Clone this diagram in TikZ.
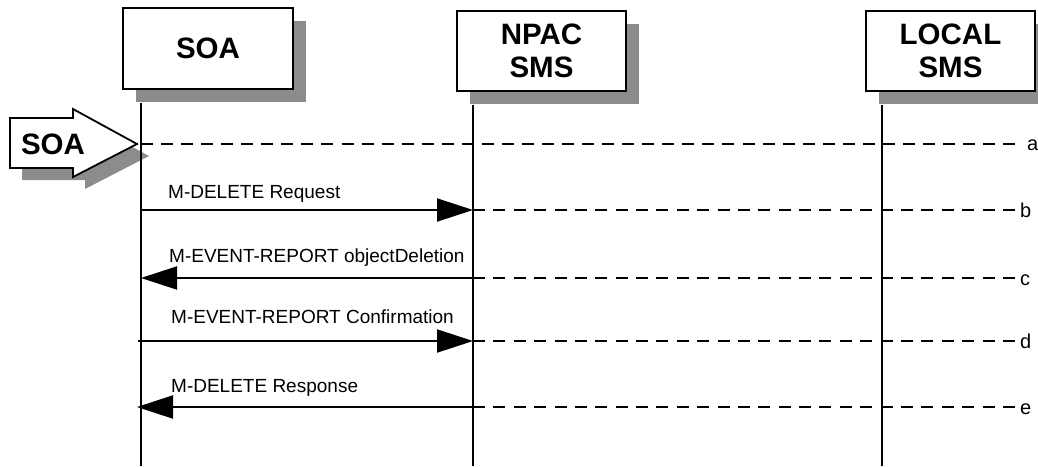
\documentclass[tikz,border=0pt]{standalone}
\usepackage{fontspec}
\setmainfont{Liberation Sans}
\usetikzlibrary{arrows.meta,shadows}
\definecolor{shgray}{RGB}{140,140,140}
\begin{document}
\begin{tikzpicture}[x=1pt,y=-1pt,
  box/.style={draw=black, line width=1.8pt, fill=white, inner sep=0pt, align=center,
    font=\fontsize{29.5}{33}\selectfont\bfseries,
    drop shadow={shadow xshift=13pt, shadow yshift=-13pt, fill=shgray, opacity=1}},
  life/.style={line width=2pt},
  msg/.style={line width=2pt, -{Triangle[length=36pt,width=23pt]}},
  dsh/.style={line width=2pt, dash pattern=on 12pt off 8.38pt},
  dsha/.style={line width=2pt, dash pattern=on 12pt off 8.05pt},
  lbl/.style={anchor=base west, inner sep=0pt, font=\fontsize{19}{22}\selectfont},
  tag/.style={anchor=base west, inner sep=0pt, font=\fontsize{20}{22}\selectfont}]
\useasboundingbox (0,0) rectangle (1038,466);

% external SOA block arrow
\fill[shgray] (22,130) -- (85,130) -- (85,121) -- (149,156) -- (85,189) -- (85,180) -- (22,180) -- cycle;
\draw[line width=1.8pt, fill=white] (10,118) -- (73,118) -- (73,109) -- (137,144) -- (73,177) -- (73,168) -- (10,168) -- cycle;
\node[font=\fontsize{29.5}{33}\selectfont\bfseries, inner sep=0pt] (soain) at (53,144) {SOA};

% boxes
\node[box, minimum width=170pt, minimum height=81pt] (soa) at (208,48.5) {SOA};
\node[box, minimum width=169pt, minimum height=80pt] (npac) at (541.5,51) {NPAC\\SMS};
\node[box, minimum width=169pt, minimum height=80pt] (local) at (950.5,51) {LOCAL\\SMS};

% lifelines
\coordinate (soaBot) at (141,466);
\coordinate (npacBot) at (473,466);
\coordinate (localBot) at (882,466);
\draw[life] ([yshift=-13pt]soa.south -| soaBot) -- (soaBot);
\draw[life] ([yshift=-13pt]npac.south -| npacBot) -- (npacBot);
\draw[life] ([yshift=-13pt]local.south -| localBot) -- (localBot);

% row a
\coordinate (a1) at (141,144);
\coordinate (a3) at (1015,144);
\draw[dsha] (a1) -- (a3);
\node[tag] (ta) at (1027,150) {a};

% row b
\coordinate (b1) at (141,210);
\coordinate (b2) at (473,210);
\coordinate (b3) at (1015,210);
\draw[msg] (b1) -- (b2);
\draw[dsh] (b2) -- (b3);
\node[lbl] (lb) at (168,198) {M-DELETE Request};
\node[tag] (tb) at (1020,217) {b};

% row c
\coordinate (c1) at (141,278);
\coordinate (c2) at (473,278);
\coordinate (c3) at (1015,278);
\draw[msg] (c2) -- (c1);
\draw[dsh] (c2) -- (c3);
\node[lbl] (lc) at (169,262) {M-EVENT-REPORT objectDeletion};
\node[tag] (tc) at (1020,285) {c};

% row d
\coordinate (d1) at (138,341);
\coordinate (d2) at (473,341);
\coordinate (d3) at (1015,341);
\draw[msg] (d1) -- (d2);
\draw[dsh] (d2) -- (d3);
\node[lbl] (ld) at (171,323) {M-EVENT-REPORT Confirmation};
\node[tag] (td) at (1020,348) {d};

% row e
\coordinate (e1) at (137,407);
\coordinate (e2) at (473,407);
\coordinate (e3) at (1015,407);
\draw[msg] (e2) -- (e1);
\draw[dsh] (e2) -- (e3);
\node[lbl] (le) at (171,392) {M-DELETE Response};
\node[tag] (te) at (1020,414) {e};
\end{tikzpicture}
\end{document}
